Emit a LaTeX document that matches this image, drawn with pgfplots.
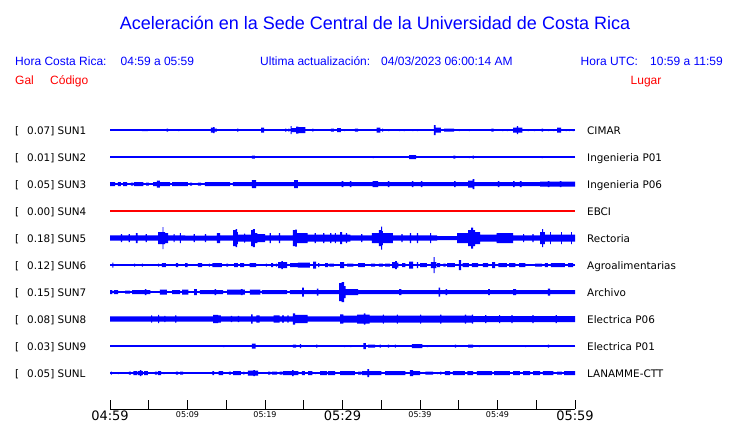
\documentclass[border=0pt]{standalone}
\usepackage{pgfplots}
\pgfplotsset{compat=1.18}
\usepackage{pgfplotstable}
\usepackage{fontspec}
\setmainfont{Liberation Sans}
\newfontfamily\dv{DejaVu Sans}
\definecolor{sblue}{RGB}{0,0,255}
\definecolor{sred}{RGB}{255,0,0}

% t = minutes after 04:59, a = half amplitude of the trace envelope (px)
\pgfplotstableread[row sep=\\]{t a\\ 0 0\\ 4.1 1\\ 4.9 0\\ 7.3 1.5\\ 7.5 0\\ 8.8 1\\ 8.95 0\\ 13.0 2.5\\ 13.3 3\\ 13.5 1.5\\ 13.8 0\\ 16.4 1.5\\ 16.55 0\\ 19.5 2.5\\ 19.9 0\\ 22.6 1.5\\ 22.75 0\\ 23.0 1.5\\ 23.15 0\\ 23.3 4\\ 23.45 2\\ 24.0 3.5\\ 24.3 3\\ 25.2 0\\ 26.1 1.5\\ 26.25 0\\ 28.5 1.5\\ 28.9 0\\ 29.3 2\\ 29.8 0\\ 30.2 1\\ 30.35 0\\ 31.6 1.5\\ 32.0 0\\ 34.4 2.5\\ 34.9 0\\ 35.1 1.5\\ 35.25 0\\ 35.9 1\\ 36.05 0\\ 37.3 1\\ 37.45 0\\ 37.9 1\\ 38.05 0\\ 39.0 1\\ 39.15 0\\ 39.6 1\\ 39.75 0\\ 41.8 5\\ 42.0 2.5\\ 42.7 0\\ 43.1 1.5\\ 44.4 0\\ 45.0 1\\ 45.15 0\\ 46.3 1\\ 46.45 0\\ 49.2 1.5\\ 49.5 0\\ 50.6 1\\ 50.75 0\\ 51.2 1\\ 51.35 0\\ 52.0 2.5\\ 52.5 4\\ 52.65 2.5\\ 53.2 0\\ 53.9 1\\ 54.05 0\\ 54.7 1\\ 54.85 0\\ 55.7 1.5\\ 55.9 0\\ 56.5 1\\ 56.65 0\\ 57.2 1\\ 57.35 0\\ 57.7 2.5\\ 58.2 0\\ 58.8 1\\ 58.95 0\\ 59.2 1\\ 59.35 0\\ 59.7 1\\ 59.85 0\\ 60 0\\}\sunA

\pgfplotstableread[row sep=\\]{t a\\ 0 0\\ 18.3 1.5\\ 18.7 0\\ 33.9 1\\ 34.05 0\\ 38.6 2\\ 39.5 0\\ 44.3 1.5\\ 44.55 0\\ 46.3 1\\ 46.45 0\\ 46.8 1.5\\ 46.95 0\\ 55.7 1\\ 55.85 0\\ 60 0\\}\sunB

\pgfplotstableread[row sep=\\]{t a\\ 0 2\\ 0.65 0\\ 1.0 2\\ 1.4 0\\ 1.7 2\\ 2.2 0\\ 2.7 1.5\\ 3.0 0\\ 3.1 2\\ 4.3 0\\ 4.65 1.5\\ 5.0 0\\ 5.55 2\\ 6.05 3.5\\ 6.45 2\\ 7.75 0\\ 8.0 2\\ 10.05 0\\ 10.3 1.5\\ 10.6 0\\ 11.35 1.5\\ 11.75 0\\ 12.25 2\\ 15.5 0\\ 15.85 2\\ 18.3 4\\ 18.85 2\\ 23.75 4\\ 24.25 2\\ 29.9 3\\ 30.1 2\\ 30.95 3\\ 31.15 2\\ 33.9 3\\ 34.6 2\\ 35.85 3\\ 36.05 2\\ 38.95 3\\ 39.15 2\\ 40.1 3\\ 40.3 2\\ 44.4 3\\ 44.6 2\\ 46.2 3.5\\ 46.8 5\\ 47.0 2\\ 50.05 3\\ 50.25 2\\ 52.0 3\\ 52.2 2\\ 52.9 3\\ 53.1 2\\ 55.5 2.5\\ 56.5 3\\ 56.7 2.5\\ 58.05 3\\ 58.25 2.5\\ 60 2.5\\}\sunC

\pgfplotstableread[row sep=\\]{t a\\ 0 2.7\\ 1.4 4\\ 1.55 2.7\\ 2.4 4\\ 2.55 2.7\\ 3.35 5\\ 3.55 2.7\\ 4.6 4\\ 4.75 2.7\\ 6.2 6\\ 6.8 11\\ 6.9 6\\ 7.1 5\\ 7.5 2.7\\ 8.2 4\\ 8.35 2.7\\ 9.0 5\\ 9.15 2.7\\ 9.7 2.5\\ 10.8 4\\ 10.95 2.5\\ 12.25 4\\ 12.4 2.5\\ 13.8 5\\ 14.2 2.7\\ 15.9 8\\ 16.2 9\\ 16.4 6\\ 16.5 3.5\\ 17.3 4.5\\ 17.45 3.5\\ 18.2 8\\ 18.45 9\\ 18.7 5\\ 19.0 4\\ 20.0 2.7\\ 20.6 5\\ 20.75 2.7\\ 21.8 5\\ 21.95 2.7\\ 23.6 8\\ 23.9 8.5\\ 24.1 5\\ 25.5 3.5\\ 26.4 5\\ 26.55 3.5\\ 27.5 5\\ 27.65 3.5\\ 28.4 5\\ 28.55 3.5\\ 29.0 5\\ 29.15 3.5\\ 29.7 6\\ 29.95 3.5\\ 30.45 5\\ 30.6 3.5\\ 31.0 2.7\\ 32.4 4\\ 32.55 2.7\\ 33.8 5\\ 34.7 8\\ 34.97 11.5\\ 35.1 7\\ 35.2 5\\ 36.5 2.7\\ 37.6 4\\ 37.75 2.7\\ 38.7 5\\ 38.85 2.7\\ 39.6 5\\ 39.75 2.7\\ 41.3 5\\ 41.45 2.7\\ 42.2 2\\ 44.8 5\\ 46.2 8\\ 46.6 10.5\\ 46.85 8\\ 47.1 6\\ 47.75 3.5\\ 49.9 5\\ 52.0 2.7\\ 53.3 4\\ 53.45 2.7\\ 54.5 4\\ 54.65 2.7\\ 55.5 6\\ 55.75 9\\ 55.9 6\\ 56.1 3.5\\ 56.8 6\\ 56.9 3.5\\ 58.2 6\\ 58.3 3.5\\ 59.5 6\\ 59.6 3.5\\ 60 3.5\\}\sunE

\pgfplotstableread[row sep=\\]{t a\\ 0 0\\ 0.3 2.5\\ 0.45 0\\ 3.1 1.5\\ 3.25 0\\ 4.1 1.5\\ 4.25 0\\ 6.2 1.5\\ 6.35 0\\ 6.7 2\\ 7.2 0\\ 8.5 2\\ 8.8 0\\ 9.7 2\\ 10.0 0\\ 11.35 2\\ 11.9 0\\ 12.75 1.5\\ 12.9 0\\ 13.2 2\\ 14.45 0\\ 15.0 1.5\\ 15.25 0\\ 16.0 2\\ 16.5 0\\ 16.8 2\\ 17.3 0\\ 18.0 2\\ 18.85 0\\ 20.1 1.5\\ 20.25 0\\ 20.8 2\\ 21.05 0\\ 21.4 1.5\\ 21.55 0\\ 21.7 3\\ 22.1 4\\ 22.3 3\\ 22.85 0\\ 23.25 2\\ 24.25 2.5\\ 25.8 0\\ 26.2 3.5\\ 26.6 0\\ 26.85 2\\ 27.0 0\\ 27.75 2\\ 28.15 0\\ 28.3 1.5\\ 28.9 0\\ 29.7 3\\ 30.2 0\\ 30.6 1.5\\ 31.4 0\\ 32.0 2\\ 32.9 0\\ 33.7 1.5\\ 34.2 0\\ 34.7 1.5\\ 35.2 0\\ 35.5 1.5\\ 36.1 0\\ 36.4 3\\ 36.8 4\\ 37.0 2.5\\ 37.2 0\\ 37.7 2\\ 38.1 0\\ 38.6 3.5\\ 39.1 0\\ 39.6 3\\ 39.75 0\\ 40.0 2\\ 40.9 0\\ 41.4 3\\ 41.75 8\\ 41.9 3\\ 42.1 0\\ 42.2 2\\ 42.6 0\\ 43.0 1.5\\ 43.3 0\\ 43.5 2\\ 44.5 0\\ 45.0 5\\ 45.3 0\\ 45.5 2\\ 46.3 0\\ 46.7 2\\ 47.5 0\\ 48.1 2\\ 48.8 0\\ 49.3 3\\ 49.7 0\\ 50.1 2\\ 51.2 0\\ 51.5 2\\ 52.3 0\\ 52.8 2\\ 53.6 0\\ 54.85 1.5\\ 55.75 0\\ 56.1 2\\ 56.5 0\\ 56.9 2\\ 58.7 0\\ 59.1 2\\ 59.75 0\\ 60 0\\}\sunF

\pgfplotstableread[row sep=\\]{t a\\ 0 2\\ 0.3 0\\ 0.5 2\\ 1.05 0\\ 1.95 1.5\\ 2.6 0\\ 2.85 2\\ 4.5 3\\ 4.7 2\\ 5.2 0\\ 6.45 2.5\\ 7.35 0\\ 8.0 2\\ 9.05 0\\ 9.3 2.5\\ 10.1 0\\ 10.85 3\\ 11.2 0\\ 11.6 2\\ 13.5 3\\ 13.7 2\\ 14.6 0\\ 15.1 2.5\\ 16.9 3\\ 17.1 2.5\\ 17.4 0\\ 18.05 2.5\\ 19.4 0\\ 19.6 2\\ 22.85 0\\ 23.2 2\\ 24.8 4.5\\ 25.0 2\\ 26.7 3.5\\ 26.9 2\\ 29.55 9\\ 29.9 10\\ 30.2 6\\ 30.4 3\\ 32.0 2\\ 37.3 3\\ 37.6 2\\ 42.4 4.5\\ 42.6 2\\ 43.3 3\\ 43.5 2\\ 48.8 3\\ 49.0 2\\ 52.0 3\\ 52.4 2\\ 56.5 3.5\\ 56.8 2\\ 60 2\\}\sunG

\pgfplotstableread[row sep=\\]{t a\\ 0 2.6\\ 5.3 3.6\\ 5.45 2.6\\ 6.2 4.2\\ 6.35 2.6\\ 7.0 3.2\\ 7.15 2.6\\ 8.4 3.6\\ 8.55 2.6\\ 13.3 4.2\\ 13.95 3.6\\ 14.3 2.6\\ 15.6 3.2\\ 15.75 2.6\\ 16.5 3.2\\ 16.65 2.6\\ 18.2 4.7\\ 18.4 2.6\\ 18.9 3.6\\ 19.3 2.6\\ 21.1 3.6\\ 21.9 2.6\\ 22.2 3.6\\ 22.45 2.6\\ 22.9 3.6\\ 23.05 2.6\\ 23.6 5.7\\ 23.9 4.2\\ 25.5 2.6\\ 29.7 4.7\\ 30.1 3.5\\ 31.9 4.5\\ 32.75 5.7\\ 32.95 4.5\\ 33.5 3.5\\ 35.2 4.5\\ 35.35 3.5\\ 37.0 4.5\\ 37.15 3.5\\ 40.0 4.5\\ 40.15 3.5\\ 42.6 4.5\\ 42.75 3.5\\ 45.8 4.5\\ 45.95 3.5\\ 46.7 4.5\\ 46.85 3\\ 48.4 4\\ 48.55 3\\ 50.2 4\\ 50.35 3\\ 51.8 4\\ 51.95 3\\ 54.5 4\\ 54.65 3\\ 57.5 4\\ 57.65 3\\ 60 3\\}\sunH

\pgfplotstableread[row sep=\\]{t a\\ 0 0\\ 14.6 1\\ 14.75 0\\ 18.3 2.5\\ 18.8 0\\ 23.6 1.5\\ 24.0 0\\ 24.5 2\\ 24.65 0\\ 26.6 1.5\\ 26.75 0\\ 30.2 1\\ 30.35 0\\ 31.0 1\\ 31.15 0\\ 32.7 3\\ 33.0 0\\ 33.3 1.5\\ 34.2 0\\ 34.8 1.5\\ 34.95 0\\ 35.85 1.5\\ 36.0 0\\ 36.75 1.5\\ 36.9 0\\ 38.95 2\\ 40.3 0\\ 40.9 1\\ 41.05 0\\ 44.5 1.5\\ 44.65 0\\ 46.2 1.5\\ 46.85 0\\ 47.6 1\\ 47.75 0\\ 53.55 1\\ 53.7 0\\ 56.5 1.5\\ 56.65 0\\ 60 0\\}\sunI

\pgfplotstableread[row sep=\\]{t a\\ 0 0\\ 0.1 1.5\\ 0.25 0\\ 1.0 1\\ 1.15 0\\ 2.45 1.5\\ 2.7 0\\ 3.0 2\\ 3.5 0\\ 3.6 2\\ 3.85 3\\ 4.05 2\\ 4.25 0\\ 4.4 2\\ 4.9 0\\ 5.8 1.5\\ 6.1 0\\ 6.2 2\\ 6.6 0\\ 6.9 1\\ 7.05 0\\ 8.5 1.5\\ 8.8 0\\ 9.05 1.5\\ 9.45 0\\ 13.2 2\\ 13.45 0\\ 14.0 2\\ 14.6 0\\ 15.35 1.5\\ 15.6 0\\ 15.9 2\\ 16.9 0\\ 17.2 1.5\\ 17.35 0\\ 17.8 2.5\\ 18.5 3\\ 18.7 2.5\\ 19.1 0\\ 20.4 1.5\\ 20.7 0\\ 20.9 1.5\\ 21.55 0\\ 21.9 1.5\\ 22.2 0\\ 22.3 2\\ 23.5 3\\ 23.7 2\\ 24.3 0\\ 24.75 2\\ 25.15 0\\ 25.55 2\\ 26.1 0\\ 26.45 1\\ 26.6 0\\ 27.1 2\\ 28.0 0\\ 28.15 2\\ 29.05 0\\ 29.7 2\\ 31.6 0\\ 32.0 1.5\\ 32.4 0\\ 32.5 2\\ 33.2 4\\ 33.45 2\\ 35.0 0\\ 35.5 2\\ 38.1 0\\ 38.7 3\\ 39.1 2\\ 40.0 0\\ 40.7 1.5\\ 41.7 0\\ 42.2 1\\ 42.35 0\\ 42.6 1.5\\ 42.75 0\\ 43.2 2\\ 43.9 0\\ 44.25 2\\ 45.8 0\\ 46.1 2\\ 46.85 0\\ 47.35 2\\ 49.3 0\\ 49.55 2\\ 51.6 0\\ 52.0 2\\ 52.9 0\\ 53.3 2\\ 54.2 0\\ 54.6 2\\ 55.5 0\\ 55.85 2\\ 57.2 0\\ 57.7 1.5\\ 58.3 0\\ 58.6 2\\ 60 2\\}\sunL

\pgfplotsset{trace/.style={scale only axis, width=465pt, height=27pt,
  xmin=0, xmax=60, ymin=-13.5, ymax=13.5, hide axis, clip=false, anchor=west}}

% one trace: baseline y (px from top), envelope table, colour
\newcommand{\trace}[3]{%
\begin{axis}[trace, at={(110pt,-#1pt)}]
\addplot[ybar interval, fill=#3, draw=none] table[x=t, y=a] {#2};
\addplot[ybar interval, fill=#3, draw=none] table[x=t, y expr=-\thisrow{a}] {#2};
\addplot[draw=#3, color=#3, line width=1.2pt] coordinates {(0,0) (60,0)};
\end{axis}}

\begin{document}
\begin{tikzpicture}[x=1pt,y=1pt]
\path[use as bounding box] (0,0) rectangle (740,-423);

\trace{130}{\sunA}{sblue}
\trace{157}{\sunB}{sblue}
\trace{184}{\sunC}{sblue}
\begin{axis}[trace, at={(110pt,-211pt)}]
\addplot[draw=sred, color=sred, line width=1.2pt] coordinates {(0,0) (60,0)};
\end{axis}
\trace{238}{\sunE}{sblue}
\trace{265}{\sunF}{sblue}
\trace{292}{\sunG}{sblue}
\trace{319}{\sunH}{sblue}
\trace{346}{\sunI}{sblue}
\trace{373}{\sunL}{sblue}

% time axis
\begin{axis}[
  at={(110pt,-409pt)}, anchor=south west,
  scale only axis, width=465pt, height=20pt,
  xmin=0, xmax=60, ymin=0, ymax=1,
  axis x line=bottom, axis y line=none,
  x axis line style={-, black, line width=0.9pt},
  ytick=\empty,
  xtick={0,5,...,60},
  xticklabels={{\fontsize{13}{13}\selectfont 04:59},{},{05:09},{},{05:19},{},{\fontsize{13}{13}\selectfont 05:29},{},{05:39},{},{05:49},{},{\fontsize{13}{13}\selectfont 05:59}},
  xticklabel style={font=\dv\fontsize{8}{8}\selectfont, anchor=north, inner sep=0pt, yshift=-2pt},
  tick align=inside,
  major tick length=9pt,
  xtick style={black, line width=0.9pt},
]
\addplot[draw=none] coordinates {(0,0) (60,0)};
\end{axis}

\node[anchor=base, text=sblue, font=\fontsize{18}{18}\selectfont, inner sep=0pt] at (375,-29) {Aceleración en la Sede Central de la Universidad de Costa Rica};

\begin{scope}[every node/.style={anchor=base west, inner sep=0pt, text=sblue, font=\fontsize{12}{12}\selectfont}]
\node at (15,-65) {Hora Costa Rica:};
\node at (120.5,-65) {04:59 a 05:59};
\node at (260,-65) {Ultima actualización:};
\node at (381,-65) {04/03/2023 06:00:14 AM};
\node at (580.5,-65) {Hora UTC:};
\node at (650,-65) {10:59 a 11:59};
\end{scope}
\begin{scope}[every node/.style={anchor=base west, inner sep=0pt, text=sred, font=\fontsize{12}{12}\selectfont}]
\node at (15,-84) {Gal};
\node at (50,-84) {Código};
\node at (630.5,-84) {Lugar};
\end{scope}

\begin{scope}[every node/.style={anchor=base west, inner sep=0pt, text=black, font=\dv\fontsize{10.4}{10.4}\selectfont}]
\foreach \yy/\vv/\cc/\pp in {130/0.07/SUN1/CIMAR, 157/0.01/SUN2/Ingenieria P01, 184/0.05/SUN3/Ingenieria P06, 211/0.00/SUN4/EBCI, 238/0.18/SUN5/Rectoria, 265/0.12/SUN6/Agroalimentarias, 292/0.15/SUN7/Archivo, 319/0.08/SUN8/Electrica P06, 346/0.03/SUN9/Electrica P01, 373/0.05/SUNL/LANAMME-CTT}{
  \node at (15,-\yy-4) {[};
  \node at (27,-\yy-4) {\vv] \cc};
  \node at (587,-\yy-4) {\pp};
}
\end{scope}
\end{tikzpicture}
\end{document}
